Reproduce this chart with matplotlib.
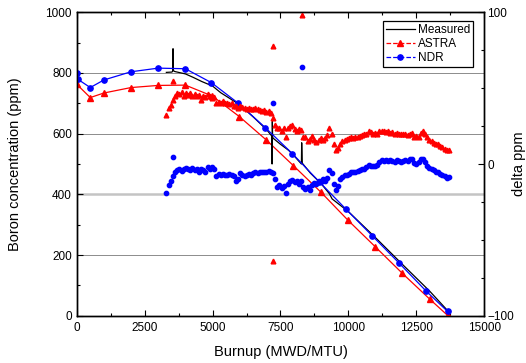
import matplotlib
matplotlib.use("Agg")
import matplotlib.pyplot as plt
from matplotlib.ticker import MultipleLocator
from matplotlib.lines import Line2D

plt.rcParams['font.family'] = ['Liberation Sans', 'DejaVu Sans']

# ---- Boron concentration curves (left axis) ----
measured_x = [3300, 3500, 3530, 3545, 3560, 3600, 3700, 4000, 4300, 4600, 5000, 5300, 5600,
              6000, 6500, 7000, 7180, 7190, 7200, 7210, 7230, 7500, 7800, 8000, 8270, 8280,
              8300, 8600, 9000, 9300, 9400, 9500, 10000, 11000, 12000, 13000, 13700]
measured_y = [802, 803, 805, 880, 808, 805, 803, 797, 785, 772, 757, 735, 718,
              695, 655, 612, 592, 500, 640, 590, 585, 565, 545, 527, 500, 570,
              503, 470, 435, 402, 385, 378, 343, 257, 168, 80, 12]

astra_x = [0, 500, 1000, 2000, 3000, 4000, 4990, 5990, 6980, 7970, 8990, 9980, 10990, 11980, 13000, 13650]
astra_y = [763, 719, 734, 752, 759, 760, 724, 656, 579, 495, 407, 315, 227, 140, 54, 1]

ndr_x = [0, 30, 500, 1000, 2000, 3000, 4000, 4960, 5950, 6940, 7940, 8920, 9900, 10880, 11870, 12850, 13650]
ndr_y = [801, 780, 752, 777, 804, 816, 814, 768, 700, 620, 534, 442, 352, 263, 173, 82, 14]

# ---- delta ppm scatter (right axis) ----
delta_x = [3300, 3380, 3460, 3540, 3620, 3700, 3780, 3860, 3940, 4020,
           4100, 4180, 4260, 4340, 4420, 4500, 4580, 4660, 4740, 4820,
           4900, 4980, 5060, 5140, 5220, 5300, 5380, 5460, 5540, 5620,
           5700, 5780, 5860, 5940, 6020, 6100, 6180, 6260, 6340, 6420,
           6500, 6580, 6660, 6740, 6820, 6900, 6980, 7060, 7140, 7220,
           7300, 7380, 7460, 7540, 7620, 7700, 7780, 7860, 7940, 8020,
           8100, 8180, 8260, 8340, 8420, 8500, 8580, 8660, 8740, 8820,
           8900, 8980, 9060, 9140, 9220, 9300, 9380, 9460, 9540, 9620,
           9700, 9780, 9860, 9940, 10020, 10100, 10180, 10260, 10340, 10420,
           10500, 10580, 10660, 10740, 10820, 10900, 10980, 11060, 11140, 11220,
           11300, 11380, 11460, 11540, 11620, 11700, 11780, 11860, 11940, 12020,
           12100, 12180, 12260, 12340, 12420, 12500, 12580, 12660, 12740, 12820,
           12900, 12980, 13060, 13140, 13220, 13300, 13380, 13460, 13540, 13620,
           13700]
astra_delta = [32, 37, 39, 42, 45, 47, 46, 47.5, 45, 46.5,
               45.5, 47, 45, 46, 44.5, 45.5, 42.5, 45, 44, 46,
               45, 43.5, 44, 40, 41, 40.5, 41.5, 40, 40.5, 39.5,
               40, 38.5, 38, 37, 38.5, 37.5, 37, 36.5, 37, 36,
               36.5, 37, 36, 35.5, 35, 35.5, 34.5, 35, 33.5, 30,
               26, 24, 23.5, 22, 24, 18, 24, 25, 25.5, 23,
               22, 23, 22.5, 17.5, 18, 15, 16.5, 18.5, 15.5, 14.5,
               16, 17, 16, 17, 19, 24, 20, 13, 9.5, 10.5,
               13, 15, 16, 16.5, 17, 17.5, 17, 18, 18, 18.5,
               19, 19.5, 20, 21.5, 21, 20, 20.5, 20, 21.5, 22,
               21.5, 21, 21.5, 20.5, 21, 20, 20.5, 19.5, 20, 19.5,
               20, 19, 19.5, 20.5, 18, 18.5, 18, 20.5, 21.5, 19.5,
               17.5, 16, 15, 14, 13, 13.5, 12, 11, 10, 9.5,
               9]
ndr_delta = [-19, -14, -11.5, -8, -5, -4, -3, -4.5, -3, -2.5,
             -3.5, -4, -2.5, -4, -3.5, -5.5, -3, -4, -5, -2,
             -3, -2, -3, -8, -6.5, -7, -6.5, -7, -7.5, -6.5,
             -7, -8, -11, -10, -6, -7.5, -8, -7, -6.5, -7,
             -6, -5.5, -6, -5, -5.5, -5, -5.5, -4.5, -5.5, -6,
             -10, -15, -14, -16, -14.5, -19, -13, -11, -10.5, -12,
             -11.5, -13, -11, -15, -16.5, -15, -17, -14, -12.5, -13,
             -11.5, -12, -10, -11, -9, -4, -6, -13, -17, -14.5,
             -10, -8.5, -7.5, -7, -6.5, -5.5, -5, -5, -4.5, -4,
             -3.5, -3, -2, -0.5, -1.5, -1, -1.5, -0.5, 1.5, 2.5,
             2, 2.5, 2, 2.5, 2, 1.5, 2.5, 2, 1.5, 2,
             2.5, 2, 3, 3.5, 0.5, 0, 1, 3, 3.5, 1.5,
             -1, -2.5, -3.5, -4, -5.5, -5, -6.5, -7.5, -8, -9,
             -8.5]
astra_outlier_x = [3560, 7220, 7220, 8300]
astra_outlier_y = [55, 78, -64, 98]
ndr_outlier_x = [3560, 7230, 8300]
ndr_outlier_y = [4.5, 40, 64]

fig = plt.figure(figsize=(5.26, 3.63), dpi=100)
ax = fig.add_axes([0.1458, 0.1303, 0.7749, 0.8358])
ax2 = ax.twinx()

ax.set_xlim(0, 15000)
ax.set_ylim(0, 1000)
ax2.set_ylim(-100, 100)

for g in [200, 600, 800]:
    ax.axhline(g, color='#8c8c8c', lw=0.7, zorder=0)
ax.axhline(400, color='#c4c4c4', lw=1.8, zorder=0)

ax.plot(astra_x, astra_y, color='red', lw=0.9, marker='^', ms=4, zorder=3)
ax.plot(measured_x, measured_y, color='black', lw=0.9, zorder=4)
ax.plot(ndr_x, ndr_y, color='blue', lw=0.9, marker='o', ms=3.8, zorder=5)

ax2.plot(delta_x, astra_delta, ls='none', color='red', marker='^', ms=3.4)
ax2.plot(astra_outlier_x, astra_outlier_y, ls='none', color='red', marker='^', ms=3.4)
ax2.plot(delta_x, ndr_delta, ls='none', color='blue', marker='o', ms=3.1)
ax2.plot(ndr_outlier_x, ndr_outlier_y, ls='none', color='blue', marker='o', ms=3.1)

ax.xaxis.set_major_locator(MultipleLocator(2500))
ax.xaxis.set_minor_locator(MultipleLocator(1250))
ax.yaxis.set_major_locator(MultipleLocator(200))
ax.yaxis.set_minor_locator(MultipleLocator(100))
ax2.yaxis.set_major_locator(MultipleLocator(100))
ax2.yaxis.set_minor_locator(MultipleLocator(25))

ax.tick_params(which='both', direction='in', top=True, labelsize=8.5, width=0.8)
ax.tick_params(axis='x', pad=4.5)
ax.tick_params(which='major', length=4)
ax.tick_params(which='minor', length=2.5)
ax2.tick_params(which='both', direction='in', labelsize=8.5, width=0.8, pad=2)
ax2.tick_params(which='major', length=4)
ax2.tick_params(which='minor', length=2.5)
for a in (ax, ax2):
    for s in a.spines.values():
        s.set_linewidth(1.0)

ax.set_xlabel('Burnup (MWD/MTU)', fontsize=10.5, labelpad=8)
ax.set_ylabel('Boron concentration (ppm)', fontsize=10.5)
ax.yaxis.set_label_coords(-0.134, 0.5)
ax2.set_ylabel('delta ppm', fontsize=10.5)
ax2.yaxis.set_label_coords(1.069, 0.5)

handles = [Line2D([], [], color='black', lw=0.9),
           Line2D([], [], color='red', lw=0.9, ls='--', marker='^', ms=4),
           Line2D([], [], color='blue', lw=0.9, ls='--', marker='o', ms=3.8)]
leg = ax2.legend(handles, ['Measured', 'ASTRA', 'NDR'], loc='upper right',
                 bbox_to_anchor=(0.973, 0.972), fontsize=8.5, fancybox=False,
                 edgecolor='black', framealpha=1, borderpad=0.25, labelspacing=0.2,
                 handlelength=2.4, handletextpad=0.3, borderaxespad=0.0)
leg.get_frame().set_linewidth(0.9)

fig.savefig('out.png', dpi=100)
